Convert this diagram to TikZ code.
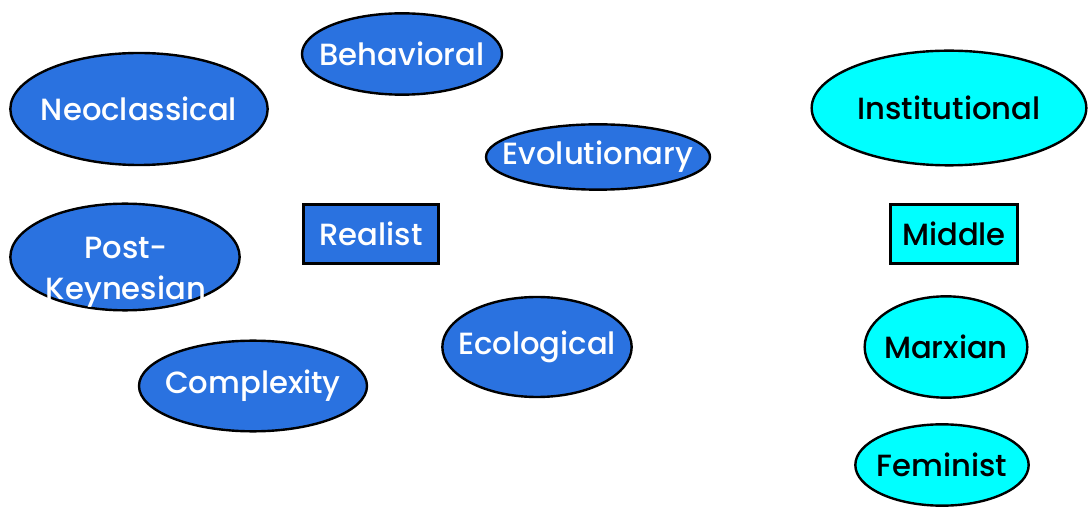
\documentclass[tikz,border=0pt]{standalone}
\usepackage{fontspec}
\setmainfont{Poppins}[UprightFont=*-Medium]
\usetikzlibrary{shapes.geometric}
\definecolor{schoolblue}{RGB}{42,114,224}
\definecolor{schoolcyan}{RGB}{0,255,255}
\newcommand{\nowidth}[1]{\makebox[0pt]{#1}}
\tikzset{every picture/.style={line width=0.75pt}}
\tikzset{
  blueoval/.style={ellipse,draw=black,line width=1.8pt,fill=schoolblue,text=white,inner sep=0pt,font=\fontsize{23}{31}\selectfont,align=center},
  cyanoval/.style={ellipse,draw=black,line width=1.8pt,fill=schoolcyan,text=black,inner sep=0pt,font=\fontsize{23}{31}\selectfont,align=center},
  bluebox/.style={rectangle,draw=black,line width=2.2pt,fill=schoolblue,text=white,inner sep=0pt,font=\fontsize{23}{31}\selectfont},
  cyanbox/.style={rectangle,draw=black,line width=2.2pt,fill=schoolcyan,text=black,inner sep=0pt,font=\fontsize{23}{31}\selectfont}
}

\begin{document}
\begin{tikzpicture}[x=0.75pt,y=0.75pt,yscale=-1,xscale=1]
\useasboundingbox (0,0) rectangle (1089,509);

%Ellipses, blue
\node [blueoval,minimum width=150pt,minimum height=61pt] (behavioral) at (402,54) {\nowidth{Behavioral}};
\node [blueoval,minimum width=193pt,minimum height=84pt] (neoclassical) at (139,109) {\nowidth{Neoclassical}};
\node [blueoval,minimum width=168pt,minimum height=49pt] (evolutionary) at (598,157) {\nowidth{Evolutionary}};
\node [blueoval,minimum width=172pt,minimum height=80pt] (postkeynesian) at (125,257) {};
\node [blueoval,draw=none,fill=none] (postkeynesiantext) at (126,272) {Post-\\Keynesian};
\node [blueoval,minimum width=142pt,minimum height=75pt] (ecological) at (537,347) {\nowidth{Ecological}};
\node [blueoval,minimum width=171pt,minimum height=68pt] (complexity) at (253,386) {\nowidth{Complexity}};

%Rect, blue
\node [bluebox,minimum width=101pt,minimum height=44pt] (realist) at (371,234) {\nowidth{Realist}};

%Ellipses, cyan
\node [cyanoval,minimum width=206pt,minimum height=86pt] (institutional) at (949,108) {\nowidth{Institutional}};
\node [cyanoval,minimum width=122pt,minimum height=76pt] (marxian) at (946,347) {\nowidth{Marxian}};
\node [cyanoval,minimum width=130pt,minimum height=61pt] (feminist) at (942,465) {\nowidth{Feminist}};

%Rect, cyan
\node [cyanbox,minimum width=95pt,minimum height=44pt] (middle) at (954,234) {\nowidth{Middle}};

\end{tikzpicture}
\end{document}
